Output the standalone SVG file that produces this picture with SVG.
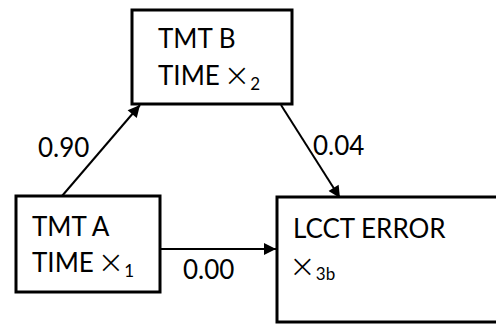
<svg xmlns="http://www.w3.org/2000/svg" width="496" height="324" viewBox="0 0 496 324">
<style>
.box{fill:#fff;stroke:#000;stroke-width:3}
.t{font-family:Lato,"Liberation Sans",Arial,sans-serif;font-size:26px;fill:#000}
.x{font-family:"DejaVu Sans",sans-serif;font-size:32px;font-weight:200}
.sub{font-size:17px}
.c{stroke:#000;stroke-width:2;fill:none;marker-end:url(#ah)}
</style>
<defs>
<marker id="ah" viewBox="0 0 10 10" refX="10" refY="5" markerWidth="7" markerHeight="6" orient="auto" markerUnits="strokeWidth">
<path d="M0,0 L10,5 L0,10 z" fill="#000"/>
</marker>
</defs>
<rect width="496" height="324" fill="#fff"/>
<g id="connectors">
<path class="c" d="M62,196 L140,105"/>
<path class="c" d="M281,105 L340,198"/>
<path class="c" d="M160,249 L276,249"/>
</g>
<g id="tmtb">
<rect class="box" x="132" y="10" width="160" height="94"/>
<text class="t" x="158" y="48">TMT B</text>
<text class="t" x="158" y="85">TIME <tspan class="x" dx="-3" dy="1">×</tspan><tspan class="sub" dy="4">2</tspan></text>
</g>
<g id="tmta">
<rect class="box" x="16" y="196" width="144" height="96"/>
<text class="t" x="32" y="236">TMT A</text>
<text class="t" x="32" y="272">TIME <tspan class="x" dx="-3" dy="1">×</tspan><tspan class="sub" dy="4">1</tspan></text>
</g>
<g id="lcct">
<rect class="box" x="277" y="197" width="240" height="125"/>
<text class="t" x="293" y="238">LCCT ERROR</text>
<text class="t" x="289" y="276"><tspan class="x" dy="1">×</tspan><tspan class="sub" dy="3">3b</tspan></text>
</g>
<g id="labels">
<text class="t" x="38" y="157">0.90</text>
<text class="t" x="313" y="155">0.04</text>
<text class="t" x="183" y="279">0.00</text>
</g>
</svg>
